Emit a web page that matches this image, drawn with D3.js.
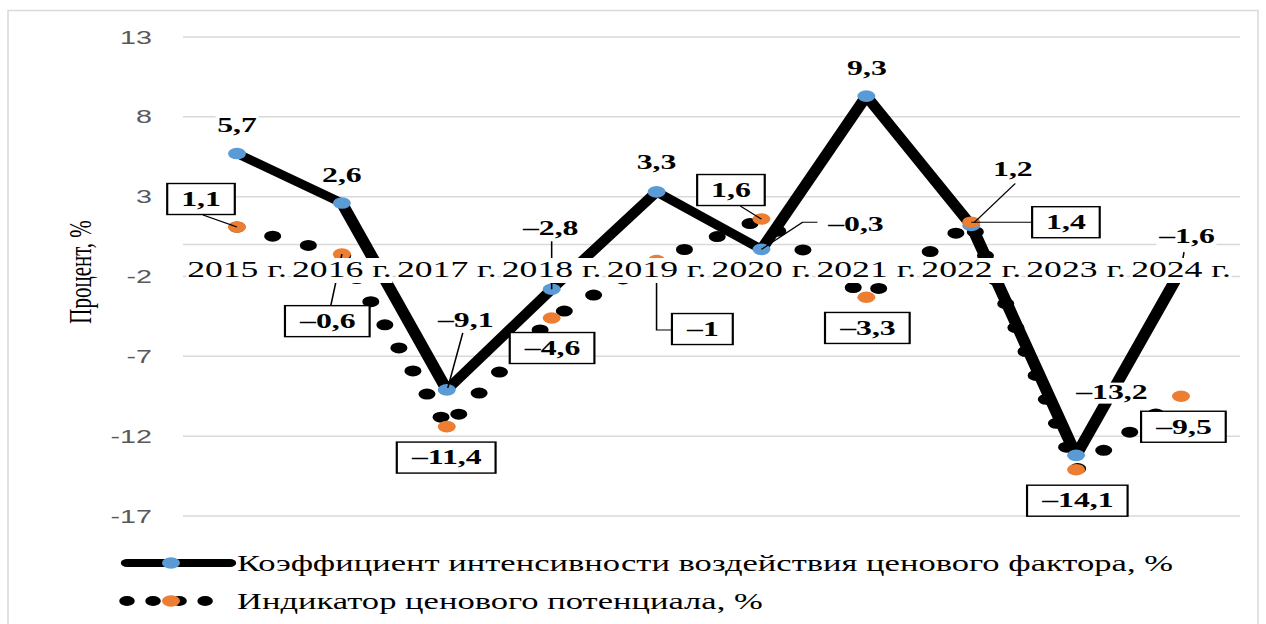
<!DOCTYPE html>
<html>
<head>
<meta charset="utf-8">
<script src="https://cdn.jsdelivr.net/npm/d3@7"></script>
<style>
  html, body { margin: 0; padding: 0; background: #fff; }
  svg { display: block; }
</style>
</head>
<body>
<svg id="chart" width="1266" height="624"></svg>
<script>
// ---- data ----
const years = ['2015 г.', '2016 г.', '2017 г.', '2018 г.', '2019 г.', '2020 г.', '2021 г.', '2022 г.', '2023 г.', '2024 г.'];
const coefValues = [5.7, 2.6, -9.1, -2.8, 3.3, -0.3, 9.3, 1.2, -13.2, -1.6];
const indicatorValues = [1.1, -0.6, -11.4, -4.6, -1, 1.6, -3.3, 1.4, -14.1, -9.5];
const yTicks = [13, 8, 3, -2, -7, -12, -17];
const seriesNames = [
  'Коэффициент интенсивности воздействия ценового фактора, %',
  'Индикатор ценового потенциала, %'
];
const yTitle = 'Процент, %';

// ---- layout (label offsets from their point, in screen px) ----
const coefLabelOffsets = [[0, -28], [0, -28], [19, -70], [-1, -61], [0, -30], [94.5, -25], [0.6, -27.7], [41.7, -56], [35.8, -62.7], [6, -34]];
const coefLeaders = {
  2: [[16, -57], [1, -2]],
  3: [[0, -48], [0, 0]],
  5: [[56, -27], [41, -27], [0, 0]],
  7: [[44, -42], [3, -3]],
  9: [[3, -18], [0, 0]]
};
const indLabelOffsets = [[-36, -28], [-14, 67], [0, 31], [1, 30], [46.4, 68.5], [-30.5, -29], [1.6, 30.7], [94.7, 0], [1.8, 31], [3, 30.5]];
const indLeaders = {
  0: [[-34, -12], [0, 0]],
  1: [[-11, 51], [0, 0]],
  4: [[20, 69.5], [0, 69.5], [0, 0]],
  5: [[-21, -13], [0, 0]],
  7: [[62, 0], [0, 0]]
};

// the whole figure is drawn horizontally widened
const SX = 1.55;
const BLUE = '#5B9BD5', ORANGE = '#ED7D31', GRID = '#d9d9d9';
const SERIF = '"Liberation Serif", "Times New Roman", serif';
const SANS = '"Liberation Sans", Arial, sans-serif';

const svg = d3.select('#chart');
svg.append('rect').attr('x', 8).attr('y', 10.5).attr('width', 1250).attr('height', 640)
  .attr('fill', '#fff').attr('stroke', GRID).attr('stroke-width', 1.5);

const g = svg.append('g').attr('transform', `scale(${SX},1)`);

const x = d3.scalePoint().domain(years).range([237 / SX, 1181 / SX]);
const y = d3.scaleLinear().domain([-17, 13]).range([516, 37]);
const plotL = 183 / SX, plotR = 1240 / SX;

const fmt = v => (v < 0 ? '\u2013' : '') + String(Math.abs(v)).replace('.', ',');

// gridlines and value axis labels
g.selectAll('.grid').data(yTicks).join('line')
  .attr('x1', plotL).attr('x2', plotR)
  .attr('y1', d => y(d)).attr('y2', d => y(d))
  .attr('stroke', GRID).attr('stroke-width', 1.5);
g.append('line').attr('x1', plotL).attr('x2', plotR)
  .attr('y1', y(0)).attr('y2', y(0)).attr('stroke', GRID).attr('stroke-width', 1.5);

g.selectAll('.ytick').data(yTicks).join('text')
  .attr('x', 152 / SX).attr('y', d => y(d)).attr('dy', '0.36em')
  .attr('text-anchor', 'end').attr('font-family', SANS).attr('font-size', 18.5)
  .attr('fill', '#595959').text(d => d);

g.append('text')
  .attr('transform', `translate(${80 / SX},272) rotate(-90)`)
  .attr('text-anchor', 'middle').attr('dy', '0.33em')
  .attr('font-family', SERIF).attr('font-size', 21).attr('fill', '#000')
  .text(yTitle);

// series lines
const coefPts = coefValues.map((v, i) => [x(years[i]), y(v)]);
const indPts = indicatorValues.map((v, i) => [x(years[i]), y(v)]);
const line = d3.line();

g.append('path').attr('d', line(coefPts)).attr('fill', 'none')
  .attr('stroke', '#000').attr('stroke-width', 8)
  .attr('stroke-linejoin', 'round').attr('stroke-linecap', 'round');

g.append('path').attr('d', line(indPts)).attr('fill', 'none')
  .attr('stroke', '#000').attr('stroke-width', 11)
  .attr('stroke-dasharray', '0 24.8').attr('stroke-linecap', 'round');

g.selectAll('.m1').data(coefPts).join('circle')
  .attr('cx', d => d[0]).attr('cy', d => d[1]).attr('r', 5.8).attr('fill', BLUE);
g.selectAll('.m2').data(indPts).join('circle')
  .attr('cx', d => d[0]).attr('cy', d => d[1]).attr('r', 5.8).attr('fill', ORANGE);

// leader lines
function drawLeaders(pts, leaders) {
  Object.entries(leaders).forEach(([i, path]) => {
    const p = pts[+i];
    g.append('polyline')
      .attr('points', path.map(([dx, dy]) => `${p[0] + dx / SX},${p[1] + dy}`).join(' '))
      .attr('fill', 'none').attr('stroke', '#000').attr('stroke-width', 1);
  });
}
drawLeaders(coefPts, coefLeaders);
drawLeaders(indPts, indLeaders);

// data labels: coefficient (plain on white), indicator (boxed)
function dataLabel(cx, cy, text, boxed) {
  const lg = g.append('g');
  const rect = lg.append('rect');
  const t = lg.append('text')
    .attr('x', cx).attr('y', cy + 6.8)
    .attr('text-anchor', 'middle').attr('font-family', SERIF)
    .attr('font-weight', 'bold').attr('font-size', 20.5)
    .text(text);
  const bb = t.node().getBBox();
  if (boxed) {
    const padX = 9;
    rect.attr('x', bb.x - padX).attr('width', bb.width + 2 * padX)
      .attr('y', cy - 15.5).attr('height', 31)
      .attr('fill', '#fff').attr('stroke', '#000').attr('stroke-width', 1.4);
  } else {
    rect.attr('x', bb.x - 1).attr('width', bb.width + 2)
      .attr('y', cy - 10).attr('height', 21).attr('fill', '#fff');
  }
}
coefPts.forEach((p, i) => {
  const [dx, dy] = coefLabelOffsets[i];
  dataLabel(p[0] + dx / SX, p[1] + dy, fmt(coefValues[i]), false);
});
indPts.forEach((p, i) => {
  const [dx, dy] = indLabelOffsets[i];
  dataLabel(p[0] + dx / SX, p[1] + dy, fmt(indicatorValues[i]), true);
});

// category labels sit on a white band over the plot
years.forEach(yr => {
  const cg = g.append('g');
  const r = cg.append('rect');
  const t = cg.append('text')
    .attr('x', x(yr)).attr('y', 277)
    .attr('text-anchor', 'middle').attr('font-family', SERIF)
    .attr('font-size', 23).attr('fill', '#000').text(yr);
  const bb = t.node().getBBox();
  r.attr('x', bb.x - 0.5).attr('width', bb.width + 1)
    .attr('y', 258).attr('height', 25).attr('fill', '#fff');
});

// legend
const lg1 = g.append('g');
lg1.append('line').attr('x1', 127 / SX).attr('x2', 230 / SX).attr('y1', 563).attr('y2', 563)
  .attr('stroke', '#000').attr('stroke-width', 8).attr('stroke-linecap', 'round');
lg1.append('circle').attr('cx', 171 / SX).attr('cy', 563).attr('r', 5.8).attr('fill', BLUE);
lg1.append('text').attr('x', 237 / SX).attr('y', 571)
  .attr('font-family', SERIF).attr('font-size', 22.3).text(seriesNames[0]);

const lg2 = g.append('g');
lg2.append('line').attr('x1', 127 / SX).attr('x2', 207 / SX).attr('y1', 601).attr('y2', 601)
  .attr('stroke', '#000').attr('stroke-width', 10)
  .attr('stroke-dasharray', '0 16.8').attr('stroke-linecap', 'round');
lg2.append('circle').attr('cx', 171 / SX).attr('cy', 601).attr('r', 5.8).attr('fill', ORANGE);
lg2.append('text').attr('x', 237 / SX).attr('y', 609)
  .attr('font-family', SERIF).attr('font-size', 22.3).text(seriesNames[1]);
</script>
</body>
</html>
